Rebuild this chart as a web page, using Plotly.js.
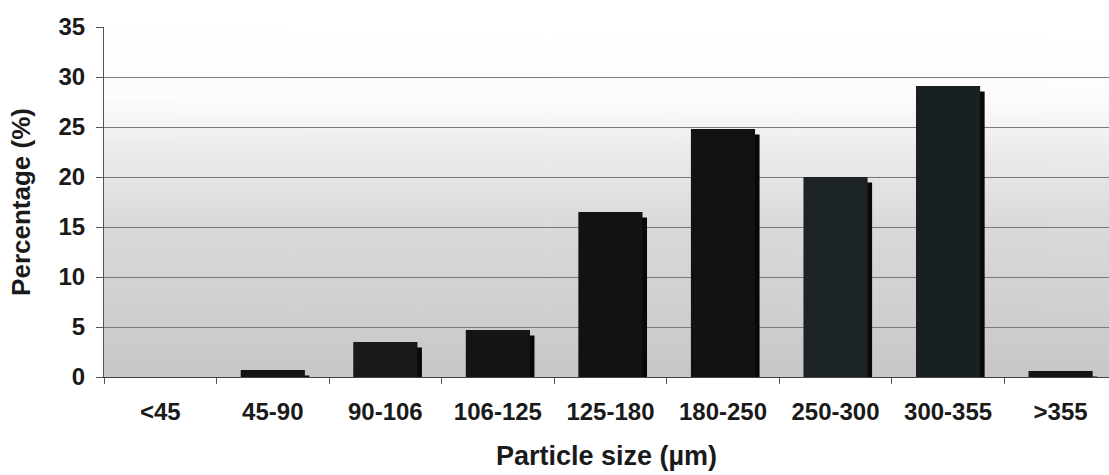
<!DOCTYPE html>
<html>
<head>
<meta charset="utf-8">
<script src="https://cdn.plot.ly/plotly-3.0.1.min.js"></script>
<style>
  html, body { margin: 0; padding: 0; background: #ffffff; }
  #chart { width: 1109px; height: 475px; }
</style>
</head>
<body>
<div id="chart"></div>
<script>
// Particle size distribution
const sizeClasses = ['<45', '45-90', '90-106', '106-125', '125-180', '180-250', '250-300', '300-355', '>355'];
const percentage = [0, 0.7, 3.5, 4.7, 16.5, 24.8, 20.0, 29.1, 0.6];
const faceColors = ['#141414', '#141414', '#17191a', '#141414', '#121212', '#121212', '#1b2326', '#182024', '#141414'];
const yTicks = [0, 5, 10, 15, 20, 25, 30, 35];

// Grey-to-white backdrop for the plotting area
function backdrop() {
  const c = document.createElement('canvas');
  c.width = 8; c.height = 350;
  const g = c.getContext('2d');
  const grad = g.createLinearGradient(0, 0, 0, 350);
  grad.addColorStop(0.00, '#ffffff');
  grad.addColorStop(0.20, '#fcfcfc');
  grad.addColorStop(0.36, '#ebebeb');
  grad.addColorStop(0.56, '#dadada');
  grad.addColorStop(0.80, '#d0d0d0');
  grad.addColorStop(1.00, '#c7c7c7');
  g.fillStyle = grad;
  g.fillRect(0, 0, 8, 350);
  return c.toDataURL('image/png');
}

const shade = {
  type: 'bar',
  x: sizeClasses,
  y: percentage,
  base: -0.55,
  width: 0.57,
  offset: -0.245,
  marker: { color: '#080808', line: { width: 0 } },
  hoverinfo: 'skip',
  showlegend: false
};

const bars = {
  type: 'bar',
  x: sizeClasses,
  y: percentage,
  width: 0.57,
  offset: -0.285,
  marker: { color: faceColors, line: { width: 0 } },
  showlegend: false
};

const font = { family: 'Liberation Sans, Arial, sans-serif', color: '#1a1a1a', weight: 'bold' };

const layout = {
  width: 1109,
  height: 475,
  margin: { l: 104, r: 0, t: 27, b: 98 },
  paper_bgcolor: '#ffffff',
  plot_bgcolor: 'rgba(0,0,0,0)',
  barmode: 'overlay',
  showlegend: false,
  images: [{
    source: backdrop(),
    xref: 'paper', yref: 'paper',
    x: 0, y: 1, sizex: 1, sizey: 1,
    xanchor: 'left', yanchor: 'top',
    sizing: 'stretch', layer: 'below'
  }],
  xaxis: {
    type: 'category',
    range: [-0.5, 8.43],
    tickson: 'boundaries',
    ticks: 'outside',
    ticklen: 6,
    tickcolor: '#555555',
    showline: true,
    linecolor: '#444444',
    linewidth: 1,
    showgrid: false,
    zeroline: false,
    ticklabelstandoff: 13,
    tickfont: Object.assign({ size: 24 }, font),
    title: { text: 'Particle size (µm)', font: Object.assign({ size: 27 }, font), standoff: 22 },
    automargin: false,
    fixedrange: true
  },
  yaxis: {
    range: [0, 35],
    tickvals: yTicks,
    ticktext: yTicks.map(String),
    ticks: 'outside',
    ticklen: 7,
    tickcolor: '#555555',
    showline: true,
    linecolor: '#555555',
    linewidth: 1,
    showgrid: true,
    gridcolor: '#7a7a7a',
    gridwidth: 1,
    zeroline: false,
    ticklabelstandoff: 6,
    tickfont: Object.assign({ size: 24 }, font),
    title: { text: 'Percentage (%)', font: Object.assign({ size: 26 }, font), standoff: 20 },
    automargin: false,
    fixedrange: true
  }
};

Plotly.newPlot('chart', [shade, bars], layout, { displayModeBar: false, staticPlot: true });
</script>
</body>
</html>
